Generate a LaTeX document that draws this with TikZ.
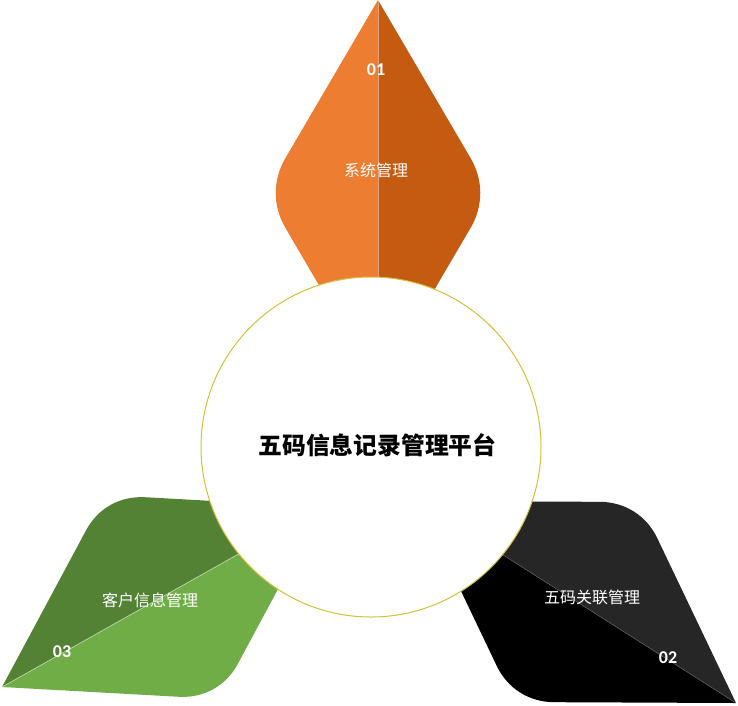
\documentclass[tikz,border=0pt]{standalone}
\usepackage{fontspec}
\setmainfont{Carlito}
\newfontfamily\cjk{Noto Sans CJK SC}
\usetikzlibrary{calc}
\definecolor{orL}{HTML}{ED7D31}
\definecolor{orD}{HTML}{C55A11}
\definecolor{grD}{HTML}{548235}
\definecolor{grL}{HTML}{70AD47}
\definecolor{bkD}{HTML}{262626}
\definecolor{bkL}{HTML}{000000}
\definecolor{ring}{RGB}{212,192,58}
\newcommand\petalhalf[4]{\fill[#1] (#2) -- ($(#3)!40pt!(#2)$) .. controls ($(#3)!15pt!(#2)$) and ($(#3)!15pt!(#4)$) .. ($(#3)!40pt!(#4)$) -- (#4) -- cycle;}
\tikzset{
  num/.style={text=white, font=\fontsize{18}{20}\selectfont\bfseries, inner sep=0pt},
  lab/.style={text=white, font=\cjk\fontsize{16}{18}\selectfont, inner sep=0pt},
  ttl/.style={text=black, font=\cjk\bfseries\fontsize{23.8}{27}\selectfont, inner sep=0pt},
  divider/.style={draw=white, draw opacity=0.45, line width=0.8pt}
}
\begin{document}
\begin{tikzpicture}[x=1pt,y=-1pt]
\useasboundingbox (0,0) rectangle (738,705);
% top petal
\coordinate (T1) at (378,0);
\coordinate (L1) at (265,193);
\coordinate (B1) at (378,386);
\coordinate (R1) at (491,193);
\petalhalf{orL}{T1}{L1}{B1}
\petalhalf{orD}{T1}{R1}{B1}
\draw[divider] (T1) -- (B1);
% bottom-right petal
\coordinate (P2) at (736,703);
\coordinate (A2) at (640,502);
\coordinate (C2) at (514,702);
\coordinate (D2) at (418,501);
\petalhalf{bkD}{P2}{A2}{D2}
\petalhalf{bkL}{P2}{C2}{D2}
\draw[divider, draw opacity=0.2] (P2) -- (D2);
% bottom-left petal
\coordinate (P3) at (2,687);
\coordinate (A3) at (105,495);
\coordinate (C3) at (219,699);
\coordinate (D3) at (322,507);
\petalhalf{grD}{P3}{A3}{D3}
\petalhalf{grL}{P3}{C3}{D3}
\draw[divider] (P3) -- (D3);
% centre circle
\node[circle, draw=ring, line width=1pt, fill=white, minimum size=340pt, inner sep=0pt] (c) at (371,447) {};
\node[ttl] (t) at (377.5,445) {五码信息记录管理平台};
% labels
\node[num] (n1) at (376,70) {01};
\node[lab] (l1) at (376,170) {系统管理};
\node[num] (n2) at (668,658) {02};
\node[lab] (l2) at (592,597) {五码关联管理};
\node[num] (n3) at (62,652) {03};
\node[lab] (l3) at (150,600) {客户信息管理};
\end{tikzpicture}
\end{document}
